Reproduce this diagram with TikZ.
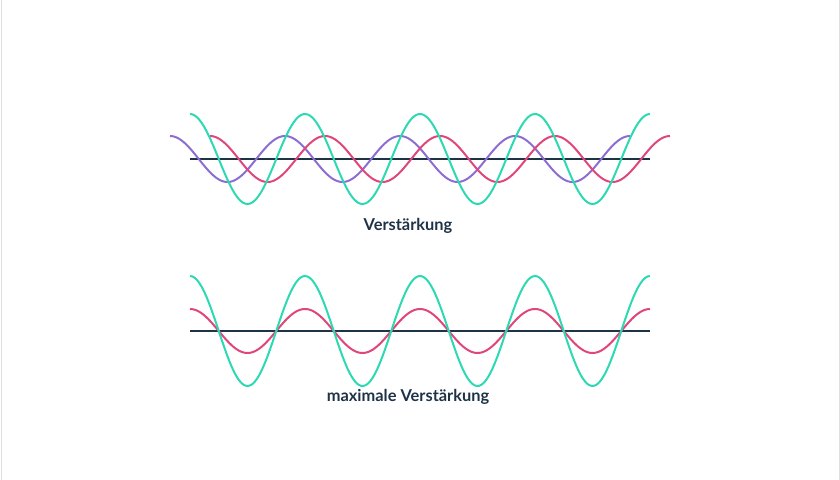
\documentclass[tikz,border=0pt]{standalone}
\usepackage{fontspec}
\setmainfont{Lato}
\definecolor{wteal}{HTML}{2DD9B2}
\definecolor{wpurple}{HTML}{8C6DD2}
\definecolor{wred}{HTML}{E0457B}
\definecolor{wnavy}{HTML}{1F3347}
\tikzset{wave/.style={line width=1.7pt},
  axis/.style={line width=1.3pt,wnavy},
  caption/.style={font=\bfseries\fontsize{14}{16}\selectfont,text=wnavy}}
\begin{document}
\begin{tikzpicture}[x=0.03cm,y=-0.03cm]
\useasboundingbox (0,0) rectangle (840,480);
\draw[gray!25,line width=0.8pt] (1,0) -- (1,480) (839,0) -- (839,480);
% Verstaerkung
\draw[axis] (190,159) -- (650,159);
\draw[wave,wpurple] plot[domain=170:630,samples=200] (\x,{159-23*cos((\x-170)/115*360)});
\draw[wave,wred] plot[domain=210:670,samples=200] (\x,{159-23*cos((\x-210)/115*360)});
\draw[wave,wteal] plot[domain=190:650,samples=200] (\x,{159-45*cos((\x-190)/115*360)});
\node[caption] (top) at (408,226) {Verstärkung};
% maximale Verstaerkung
\draw[axis] (190,331) -- (650,331);
\draw[wave,wred] plot[domain=190:650,samples=200] (\x,{331-22*cos((\x-190)/115*360)});
\draw[wave,wteal] plot[domain=190:650,samples=200] (\x,{331-55*cos((\x-190)/115*360)});
\node[caption] (bottom) at (408,397) {maximale Verstärkung};
\end{tikzpicture}
\end{document}
